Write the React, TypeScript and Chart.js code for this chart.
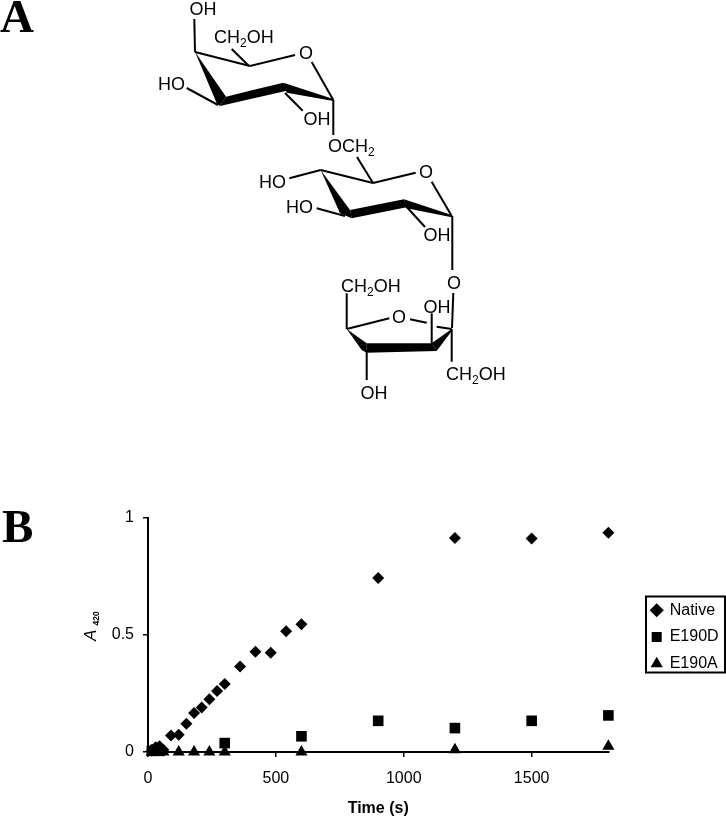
import React, { useEffect, useRef } from "react";
import { Chart, registerables } from "chart.js";

Chart.register(...registerables);

const nativeTimes = [15, 30, 45, 60, 90, 120, 150, 180, 210, 240, 270, 300, 360, 420, 480, 540, 600, 900, 1200, 1500, 1800];
const nativeValues = [0.005, 0.02, 0.025, 0.01, 0.07, 0.074, 0.12, 0.166, 0.19, 0.225, 0.26, 0.29, 0.365, 0.427, 0.423, 0.515, 0.545, 0.742, 0.913, 0.91, 0.935];
const e190dTimes = [15, 30, 45, 300, 600, 900, 1200, 1500, 1800];
const e190dValues = [0.005, 0.01, 0.005, 0.038, 0.067, 0.133, 0.102, 0.133, 0.156];
const e190aTimes = [15, 30, 45, 60, 120, 180, 240, 300, 600, 1200, 1800];
const e190aValues = [0.0, 0.005, 0.005, 0.0, 0.0, 0.0, 0.0, 0.0, 0.0, 0.01, 0.024];
const xTickValues = [0, 500, 1000, 1500];
const yTickValues = [0, 0.5, 1];

const SANS = "'Liberation Sans', Arial, sans-serif";

const toPoints = (xs: number[], ys: number[]) => xs.map((x, i) => ({ x, y: ys[i] }));

const frame = {
  id: "frame",
  afterLayout(chart: any) {
    chart.legend.left = 641;
    chart.legend.right = 725;
    chart.legend.top = 520;
    chart.legend.bottom = 754;
  },
  afterDraw(chart: any) {
    const { ctx } = chart;
    ctx.save();
    ctx.strokeStyle = "#000";
    ctx.lineWidth = 2;
    ctx.strokeRect(646, 596.5, 79, 76);
    ctx.translate(96, 641);
    ctx.rotate(-Math.PI / 2);
    ctx.fillStyle = "#000";
    ctx.textBaseline = "alphabetic";
    ctx.textAlign = "left";
    ctx.font = `italic 17px ${SANS}`;
    ctx.fillText("A", 0, 0);
    ctx.font = `bold 8.5px ${SANS}`;
    ctx.fillText("420", 15.5, 3);
    ctx.restore();
  },
};

type Label = { x: number; y: number; t: string; sub?: string; tail?: string; anchor?: "start" | "middle" };

const bonds: number[][] = [
  [194.3, 19, 195, 52],
  [195, 52, 250, 66],
  [250, 66, 295, 55],
  [311.7, 62, 333.3, 100],
  [231.7, 49, 249, 66],
  [186.7, 88, 218, 105],
  [285, 93, 302.7, 110.7],
  [333.3, 100, 333.3, 135],
  [357, 157, 373, 183],
  [320.7, 170, 373, 183],
  [373, 183, 415.7, 172.7],
  [431.7, 181.7, 451.7, 216],
  [289.3, 178.3, 320.7, 170],
  [316.7, 208.3, 345, 216],
  [404, 204, 425, 227],
  [452.3, 216, 452.3, 270],
  [453.3, 293, 452, 328],
  [346.7, 329, 389.3, 318.3],
  [410, 319.3, 426.7, 322.7],
  [436.7, 326.7, 451.7, 329],
  [346.7, 293.3, 346.7, 329],
  [366.7, 350, 366.7, 380],
  [431.7, 313.3, 431.7, 345],
  [451.7, 329, 451.7, 361.7],
];

const wedges: string[] = [
  "195,51.7 226,96.7 220,106 217,104",
  "226,96.7 283.3,82.7 286.7,90.7 220,106",
  "283.3,82.7 333.3,99 333.3,101 286.7,92.7",
  "320.7,170 350,210 351.7,218.3 340,213.3",
  "350,210 404,199.3 406.7,207.3 351.7,218.3",
  "404,199.3 451.7,215 451.7,217.3 406.7,208.3",
  "346.7,329 366.7,343.3 366.7,352.7 361.7,350",
  "366.7,343.3 431.7,343.3 436.7,351 366.7,352.7",
  "431.7,343.3 451.7,329 451.7,331 436.7,351",
];

const labels: Label[] = [
  { x: 203, y: 15, t: "OH", anchor: "middle" },
  { x: 214, y: 43, t: "CH", sub: "2", tail: "OH" },
  { x: 306, y: 59, t: "O", anchor: "middle" },
  { x: 171.5, y: 90, t: "HO", anchor: "middle" },
  { x: 317, y: 125, t: "OH", anchor: "middle" },
  { x: 328, y: 152, t: "OCH", sub: "2" },
  { x: 426, y: 178, t: "O", anchor: "middle" },
  { x: 272.5, y: 188, t: "HO", anchor: "middle" },
  { x: 299.5, y: 213, t: "HO", anchor: "middle" },
  { x: 437, y: 241, t: "OH", anchor: "middle" },
  { x: 454, y: 289, t: "O", anchor: "middle" },
  { x: 341, y: 292, t: "CH", sub: "2", tail: "OH" },
  { x: 437, y: 313, t: "OH", anchor: "middle" },
  { x: 399, y: 323, t: "O", anchor: "middle" },
  { x: 446, y: 380, t: "CH", sub: "2", tail: "OH" },
  { x: 374, y: 399, t: "OH", anchor: "middle" },
];

function Structure() {
  return (
    <svg width={726} height={816} style={{ position: "absolute", left: 0, top: 0, pointerEvents: "none" }}>
      {bonds.map((b, i) => (
        <line key={i} x1={b[0]} y1={b[1]} x2={b[2]} y2={b[3]} stroke="#000" strokeWidth={2} />
      ))}
      {wedges.map((p, i) => (
        <polygon key={i} points={p} fill="#000" />
      ))}
      {labels.map((l, i) => (
        <text key={i} x={l.x} y={l.y} textAnchor={l.anchor ?? "start"} fontFamily={SANS} fontSize={18} fill="#000">
          {l.t}
          {l.sub && (
            <tspan dy={4} fontSize={12}>
              {l.sub}
            </tspan>
          )}
          {l.tail && <tspan dy={-4}>{l.tail}</tspan>}
        </text>
      ))}
      <text x={0} y={32} fontFamily="'Liberation Serif', serif" fontWeight="bold" fontSize={47} fill="#000">
        A
      </text>
      <text x={2} y={541.5} fontFamily="'Liberation Serif', serif" fontWeight="bold" fontSize={47} fill="#000">
        B
      </text>
    </svg>
  );
}

export default function App() {
  const ref = useRef<HTMLCanvasElement>(null);
  useEffect(() => {
    const common = { showLine: false, backgroundColor: "#000", borderColor: "#000", borderWidth: 0, clip: false as const };
    const chart = new Chart(ref.current!, {
      type: "scatter",
      data: {
        datasets: [
          { ...common, label: "Native", data: toPoints(nativeTimes, nativeValues), pointStyle: "rectRot", pointRadius: 6 },
          { ...common, label: "E190D", data: toPoints(e190dTimes, e190dValues), pointStyle: "rect", pointRadius: 7.5 },
          { ...common, label: "E190A", data: toPoints(e190aTimes, e190aValues), pointStyle: "triangle", pointRadius: 7 },
        ],
      },
      plugins: [frame],
      options: {
        animation: false,
        responsive: false,
        layout: { autoPadding: false, padding: { top: 517.5, left: 0, right: 30, bottom: 0 } },
        plugins: {
          tooltip: { enabled: false },
          legend: {
            position: "right",
            align: "center",
            labels: {
              usePointStyle: true,
              boxWidth: 10,
              boxHeight: 10,
              padding: 10.7,
              color: "#000",
              font: { family: SANS, size: 16 },
            },
          },
        },
        scales: {
          x: {
            type: "linear",
            min: 0,
            max: 1800,
            afterFit(s: any) {
              s.height = 64;
            },
            afterBuildTicks(s: any) {
              s.ticks = xTickValues.map((value) => ({ value }));
            },
            border: { color: "#000", width: 2 },
            grid: { drawOnChartArea: false, color: "#000", tickLength: 5, lineWidth: 1.5 },
            ticks: {
              color: "#000",
              padding: 12,
              maxRotation: 0,
              autoSkip: false,
              font: { family: SANS, size: 16 },
              callback: (v: any) => String(v),
            },
            title: {
              display: true,
              text: "Time (s)",
              color: "#000",
              padding: { top: 0, bottom: -2 },
              font: { family: SANS, size: 16, weight: "bold" },
            },
          },
          y: {
            type: "linear",
            min: 0,
            max: 1,
            afterFit(s: any) {
              s.width = 148;
            },
            afterBuildTicks(s: any) {
              s.ticks = yTickValues.map((value) => ({ value }));
            },
            border: { color: "#000", width: 2 },
            grid: { drawOnChartArea: false, color: "#000", tickLength: 5, lineWidth: 1.5 },
            ticks: {
              color: "#000",
              padding: 9,
              autoSkip: false,
              font: { family: SANS, size: 16 },
              callback: (v: any) => String(v),
            },
          },
        },
      },
    } as any);
    return () => chart.destroy();
  }, []);
  return (
    <div style={{ position: "absolute", left: 0, top: 0, width: 726, height: 816, background: "#fff" }}>
      <canvas ref={ref} width={726} height={816} style={{ position: "absolute", left: 0, top: 0 }} />
      <Structure />
    </div>
  );
}
